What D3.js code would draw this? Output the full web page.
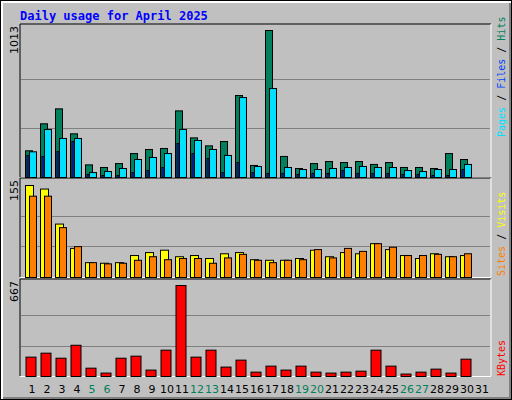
<!DOCTYPE html>
<html><head><meta charset="utf-8">
<script src="https://cdn.jsdelivr.net/npm/d3@7"></script>
<style>body{margin:0;background:#fff}svg{display:block}</style>
</head><body><svg id="c" width="512" height="400"></svg>
<script>
const days = d3.range(1, 32);
const weekend = [5, 6, 12, 13, 19, 20, 26, 27];
const hits  = [184,370,473,301,87,69,96,165,193,200,459,273,218,248,565,83,1013,145,62,96,110,103,110,90,103,69,69,62,165,124,0];
const files = [177,331,269,269,34,41,62,124,138,165,331,255,193,152,551,76,613,69,55,55,62,69,76,69,69,48,41,55,55,90,0];
const pages = [152,145,179,248,21,14,14,34,48,69,234,165,131,34,103,34,28,28,21,28,28,48,28,28,28,21,21,14,14,55,0];
const visits= [155,149,90,49,25,24,25,37,42,46,35,37,32,40,42,30,29,29,32,46,35,42,40,57,47,37,32,40,35,37,0];
const sites = [137,137,84,52,25,23,24,29,35,30,32,32,24,33,39,29,25,29,30,47,33,49,44,57,51,37,37,39,35,40,0];
const kbytes= [142,171,134,229,61,25,134,149,47,193,667,142,193,69,120,32,76,47,76,32,25,32,39,193,76,18,32,54,25,127,0];
const maxLabels = ["1013", "155", "667"];

const svg = d3.select("#c");
const W = 512, H = 400;
svg.append("rect").attr("width",W).attr("height",H).attr("fill","#000");
svg.append("rect").attr("x",1).attr("y",1).attr("width",W-2).attr("height",H-2).attr("fill","#fff");
svg.append("rect").attr("x",3).attr("y",3).attr("width",W-4).attr("height",H-4).attr("fill","#808080");
svg.append("rect").attr("x",3).attr("y",3).attr("width",W-6).attr("height",H-6).attr("fill","#c0c0c0");

svg.append("text").attr("x",20).attr("y",20).attr("fill","#0000ff")
  .attr("font-family","DejaVu Sans Mono").attr("font-weight","bold").attr("font-size",12)
  .text("Daily usage for April 2025");

const x = d3.scaleBand().domain(days).range([25, 490]).paddingInner(0).paddingOuter(0);
const L = 20, R = 491;
const panels = [
  {top:24, bottom:177, h:147, max:1013},
  {top:178, bottom:277, h:92, max:155},
  {top:279, bottom:376, h:91, max:667}
];

panels.forEach((p,i)=>{
  const g = svg.append("g");
  g.append("line").attr("x1",L).attr("x2",R).attr("y1",p.top).attr("y2",p.top).attr("stroke","#000");
  g.append("line").attr("x1",L).attr("x2",L).attr("y1",p.top).attr("y2",p.bottom).attr("stroke","#000");
  g.append("line").attr("x1",L).attr("x2",R).attr("y1",p.bottom+0.5).attr("y2",p.bottom+0.5).attr("stroke","#fff");
  g.append("line").attr("x1",R).attr("x2",R).attr("y1",p.top).attr("y2",p.bottom).attr("stroke","#fff");
  const y = d3.scaleLinear().domain([0,p.max]).range([p.bottom, p.bottom-p.h]);
  p.y = y;
  [p.h/3, p.h*2/3].forEach(v=>g.append("line").attr("x1",L+1).attr("x2",R-1)
    .attr("y1",Math.round(p.bottom-v)+0.5).attr("y2",Math.round(p.bottom-v)+0.5).attr("stroke","#808080"));
  g.append("text").attr("transform",`translate(18,${p.top+2}) rotate(-90)`)
    .attr("text-anchor","end").attr("font-family","DejaVu Sans").attr("font-size",11)
    .attr("fill","#000").text(maxLabels[i]);
});

function bars(data, p, dx, w, color){
  svg.append("g").selectAll("rect").data(data).join("rect")
    .filter(d=>d>0)
    .attr("x",(d,i)=>x(days[i])+dx+0.5).attr("width",w)
    .attr("y",d=>p.y(d)+0.5).attr("height",d=>p.bottom-p.y(d))
    .attr("fill",color).attr("stroke","#000").attr("stroke-width",1);
}
bars(hits, panels[0], 0, 7, "#00805c");
bars(files, panels[0], 4, 7, "#00e0ff");
bars(pages, panels[0], 1.5, 2, "#0040ff");
bars(visits, panels[1], 0, 8, "#ffff00");
bars(sites, panels[1], 4, 7, "#ff8000");
bars(kbytes, panels[2], 0.5, 10, "#ff0000");

svg.append("g").selectAll("text").data(days).join("text")
  .attr("x",d=>x(d)+7).attr("y",393).attr("text-anchor","middle")
  .attr("font-family","DejaVu Sans").attr("font-size",11)
  .attr("fill",d=>weekend.includes(d)?"#00805c":"#000").text(d=>d);

function legend(yBottom, parts){
  const t = svg.append("text").attr("transform",`translate(505,${yBottom}) rotate(-90)`)
    .attr("font-family","DejaVu Sans Mono").attr("font-size",10);
  parts.forEach(([s,c])=>t.append("tspan").attr("fill",c).text(s));
}
legend(137, [["Pages","#00e0ff"],[" / ","#000"],["Files","#0040ff"],[" / ","#000"],["Hits","#00805c"]]);
legend(276, [["Sites","#ff8000"],[" / ","#000"],["Visits","#ffff00"]]);
legend(376, [["KBytes","#ff0000"]]);
</script></body></html>
